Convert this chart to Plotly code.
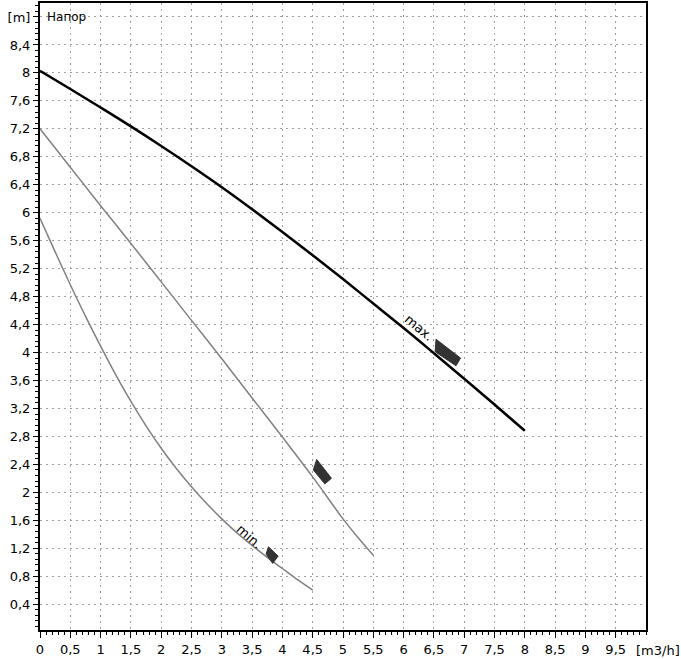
import plotly.graph_objects as go

# ---- data ----
q_max = [0, 0.5, 1.0, 1.5, 2.0, 2.5, 3.0, 3.5, 4.0, 4.5, 5.0, 5.5, 6.0, 6.5, 7.0, 7.5, 8.0]
h_max = [8.03, 7.77, 7.505, 7.235, 6.955, 6.665, 6.365, 6.05, 5.725, 5.39, 5.05, 4.70, 4.35, 3.99, 3.625, 3.255, 2.88]

q_mid = [0, 0.5, 1.0, 1.5, 2.0, 2.5, 3.0, 3.5, 4.0, 4.5, 5.0, 5.25, 5.5]
h_mid = [7.20, 6.65, 6.10, 5.56, 5.01, 4.46, 3.91, 3.35, 2.79, 2.22, 1.62, 1.35, 1.10]

q_min = [0, 0.25, 0.5, 0.75, 1.0, 1.25, 1.5, 1.75, 2.0, 2.25, 2.5, 2.75, 3.0, 3.25, 3.5, 3.75, 4.0, 4.25, 4.5]
h_min = [5.92, 5.44, 4.97, 4.52, 4.09, 3.68, 3.30, 2.95, 2.63, 2.34, 2.08, 1.84, 1.62, 1.42, 1.24, 1.07, 0.91, 0.75, 0.60]

# setting indicator polygons (flow, head)
ind_max_q = [6.535, 6.94, 6.865, 6.52, 6.535]
ind_max_h = [4.19, 3.92, 3.81, 4.01, 4.19]
ind_mid_q = [4.566, 4.81, 4.70, 4.51, 4.566]
ind_mid_h = [2.47, 2.20, 2.12, 2.32, 2.47]
ind_min_q = [3.77, 3.93, 3.84, 3.73, 3.77]
ind_min_h = [1.22, 1.087, 0.983, 1.116, 1.22]

x_tickvals = [0, 0.5, 1, 1.5, 2, 2.5, 3, 3.5, 4, 4.5, 5, 5.5, 6, 6.5, 7, 7.5, 8, 8.5, 9, 9.5]
x_ticktext = ["0", "0,5", "1", "1,5", "2", "2,5", "3", "3,5", "4", "4,5", "5", "5,5",
              "6", "6,5", "7", "7,5", "8", "8,5", "9", "9,5"]
y_tickvals = [0.4, 0.8, 1.2, 1.6, 2.0, 2.4, 2.8, 3.2, 3.6, 4.0, 4.4, 4.8, 5.2, 5.6,
              6.0, 6.4, 6.8, 7.2, 7.6, 8.0, 8.4, 8.8]
y_ticktext = ["0,4", "0,8", "1,2", "1,6", "2", "2,4", "2,8", "3,2", "3,6", "4", "4,4",
              "4,8", "5,2", "5,6", "6", "6,4", "6,8", "7,2", "7,6", "8", "8,4", "[m]"]

FONT = "DejaVu Sans"

fig = go.Figure()

fig.add_trace(go.Scatter(x=q_min, y=h_min, mode="lines",
                         line=dict(color="#808080", width=1.5, shape="spline"),
                         hoverinfo="skip", showlegend=False))
fig.add_trace(go.Scatter(x=q_mid, y=h_mid, mode="lines",
                         line=dict(color="#808080", width=1.5, shape="spline"),
                         hoverinfo="skip", showlegend=False))
fig.add_trace(go.Scatter(x=q_max, y=h_max, mode="lines",
                         line=dict(color="#000000", width=2.5, shape="spline"),
                         hoverinfo="skip", showlegend=False))

for qx, hy in [(ind_max_q, ind_max_h), (ind_mid_q, ind_mid_h), (ind_min_q, ind_min_h)]:
    fig.add_trace(go.Scatter(x=qx, y=hy, mode="lines", fill="toself",
                             fillcolor="#333333", line=dict(color="#333333", width=1),
                             hoverinfo="skip", showlegend=False))

fig.update_layout(
    width=681, height=659,
    margin=dict(l=40, r=35, t=3, b=29),
    paper_bgcolor="white", plot_bgcolor="white",
    font=dict(family=FONT, size=13, color="#000000"),
    xaxis=dict(range=[0, 10], tickvals=x_tickvals, ticktext=x_ticktext, automargin=False,
               showgrid=True, gridcolor="#a0a0a0", griddash="2px,4px", gridwidth=1,
               zeroline=False, showline=True, linecolor="#000000", linewidth=2, mirror=True,
               ticks="outside", ticklen=6, tickcolor="#000000", tickwidth=1,
               minor=dict(dtick=0.1, tick0=0, ticks="outside", ticklen=3,
                          tickcolor="#000000", showgrid=False),
               tickfont=dict(family=FONT, size=13)),
    yaxis=dict(range=[0.03, 9.0], tickvals=y_tickvals, ticktext=y_ticktext, automargin=False,
               showgrid=True, gridcolor="#a0a0a0", griddash="2px,4px", gridwidth=1,
               zeroline=False, showline=True, linecolor="#000000", linewidth=2, mirror=True,
               ticks="outside", ticklen=5, tickcolor="#000000", tickwidth=1,
               minor=dict(dtick=0.08, tick0=0, ticks="outside", ticklen=3,
                          tickcolor="#000000", showgrid=False),
               tickfont=dict(family=FONT, size=13)),
    annotations=[
        dict(text="Напор", xref="x", yref="y", x=0.08, y=8.8, xanchor="left",
             yanchor="middle", showarrow=False, font=dict(family=FONT, size=12)),
        dict(text="[m3/h]", xref="paper", yref="paper", x=1, y=0, xanchor="center",
             yanchor="top", xshift=12, yshift=-11, showarrow=False,
             font=dict(family=FONT, size=13)),
        dict(text="max.", xref="x", yref="y", x=6.25, y=4.36, textangle=40,
             showarrow=False, font=dict(family=FONT, size=13)),
        dict(text="min.", xref="x", yref="y", x=3.45, y=1.37, textangle=41,
             showarrow=False, font=dict(family=FONT, size=13)),
    ],
)

fig.write_html("out.html", config={"displayModeBar": False},
               post_script="document.body.style.margin='0px';document.body.style.padding='0px';")
